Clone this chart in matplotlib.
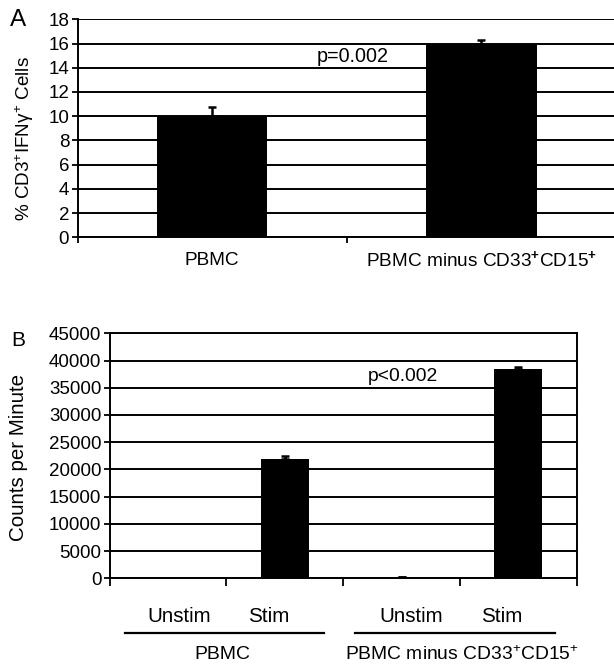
import matplotlib
matplotlib.use("Agg")
import matplotlib.pyplot as plt
import matplotlib.transforms as mtransforms
from matplotlib.lines import Line2D

plt.rcParams['font.family'] = ['Liberation Sans', 'DejaVu Sans']
plt.rcParams['mathtext.fontset'] = 'custom'
plt.rcParams['mathtext.rm'] = 'Liberation Sans'
plt.rcParams['mathtext.it'] = 'Liberation Sans:italic'
plt.rcParams['mathtext.bf'] = 'Liberation Sans:bold'

# Panel A data
a_categories = ["PBMC", "PBMC minus CD33$^{\\mathbf{+}}$CD15$^{\\mathbf{+}}$"]
a_values = [10.0, 16.0]
a_errors = [0.75, 0.25]
a_yticks = [0, 2, 4, 6, 8, 10, 12, 14, 16, 18]

# Panel B data
b_conditions = ["Unstim", "Stim", "Unstim", "Stim"]
b_groups = ["PBMC", "PBMC minus CD33$^{+}$CD15$^{+}$"]
b_values = [0, 22000, 300, 38400]
b_errors = [0, 400, 0, 500]
b_yticks = [0, 5000, 10000, 15000, 20000, 25000, 30000, 35000, 40000, 45000]

W, H = 614, 669
fig = plt.figure(figsize=(W / 100, H / 100), dpi=100)
renderer = fig.canvas.get_renderer()

def px_axes(left, top, right, bottom):
    return fig.add_axes([left / W, 1 - bottom / H, (right - left) / W, (bottom - top) / H])

def fit_text(t, target_px, vertical=False):
    # scale the font so the rendered extent matches the reference size
    for _ in range(3):
        bb = t.get_window_extent(renderer=renderer)
        cur = bb.height if vertical else bb.width
        if cur > 0:
            t.set_fontsize(t.get_fontsize() * target_px / cur)

fs = 14

# ---------- Panel A ----------
axA = px_axes(77.5, 19.3, 616, 237.3)
xa = list(range(len(a_values)))
axA.bar(xa, a_values, width=0.41, color='black', zorder=3)
axA.errorbar(xa, a_values, yerr=[[0] * len(a_errors), a_errors], fmt='none',
             ecolor='black', elinewidth=1.8, capsize=3, capthick=1.8, zorder=4)
axA.set_xlim(-0.5, 1.5)
axA.set_ylim(0, 18)
axA.set_yticks(a_yticks)
axA.yaxis.grid(True, color='black', linewidth=1.4, zorder=0)
axA.set_axisbelow(True)
axA.set_xticks([-0.5, 0.5, 1.5])
axA.set_xticklabels([])
axA.tick_params(axis='x', direction='out', length=4, width=1.3)
axA.tick_params(axis='y', direction='out', length=4, width=1.3, labelsize=13.5, pad=2)
for s in ['top', 'right']:
    axA.spines[s].set_visible(False)
for s in ['left', 'bottom']:
    axA.spines[s].set_linewidth(1.4)
transA = mtransforms.blended_transform_factory(axA.transData, axA.transAxes)
a_label_targets = [55, 232]
for x, lab, tw in zip(xa, a_categories, a_label_targets):
    t = axA.text(x, -0.105, lab, transform=transA, ha='center', va='center', fontsize=fs, clip_on=False)
    fit_text(t, tw)
tp = axA.text(0.387, 14.9, "p=0.002", ha='left', va='center', fontsize=fs)
fit_text(tp, 72)
ylA = fig.text(25 / W, 1 - 139 / H, "% CD3$^{+}$IFN\u03b3$^{+}$ Cells", rotation=90,
               ha='center', va='center', fontsize=14)
fit_text(ylA, 165, vertical=True)
fig.text(18.3 / W, 1 - 20 / H, "A", ha='center', va='center', fontsize=17.5)

# ---------- Panel B ----------
axB = px_axes(109.6, 333.3, 576.7, 578.3)
xb = list(range(len(b_values)))
axB.bar(xb, b_values, width=0.41, color='black', zorder=3)
axB.errorbar(xb, b_values, yerr=[[0] * len(b_errors), b_errors], fmt='none',
             ecolor='black', elinewidth=1.8, capsize=3, capthick=1.8, zorder=4)
axB.set_xlim(-0.5, 3.5)
axB.set_ylim(0, 45000)
axB.set_yticks(b_yticks)
axB.yaxis.grid(True, color='black', linewidth=1.4, zorder=0)
axB.set_axisbelow(True)
axB.set_xticks([-0.5, 0.5, 1.5, 2.5, 3.5])
axB.set_xticklabels([])
axB.tick_params(axis='x', direction='out', length=6, width=1.3)
axB.tick_params(axis='y', direction='out', length=4, width=1.3, labelsize=13.5, pad=2)
for s in ['top', 'right', 'left', 'bottom']:
    axB.spines[s].set_linewidth(1.4)
tp2 = axB.text(1.712, 37060, "p<0.002", ha='left', va='center', fontsize=fs)
fit_text(tp2, 70)
transB = mtransforms.blended_transform_factory(axB.transData, axB.transAxes)
cond_x = [0.094, 0.865, 2.08, 2.855]
cond_w = [64, 41, 64, 41]
for x, lab, tw in zip(cond_x, b_conditions, cond_w):
    t = axB.text(x, -0.157, lab, transform=transB, ha='center', va='center', fontsize=fs, clip_on=False)
    fit_text(t, tw)
group_spans = [(-0.372, 1.335), (1.60, 3.313)]
group_x = [0.462, 2.514]
group_w = [56, 234]
for (x0, x1), gx, lab, tw in zip(group_spans, group_x, b_groups, group_w):
    axB.add_line(Line2D([x0, x1], [-0.2245, -0.2245], transform=transB, color='black',
                        linewidth=1.6, clip_on=False))
    t = axB.text(gx, -0.313, lab, transform=transB, ha='center', va='center', fontsize=13.5, clip_on=False)
    fit_text(t, tw)
ylB = fig.text(19 / W, 1 - 457.5 / H, "Counts per Minute", rotation=90,
               ha='center', va='center', fontsize=14.5)
fit_text(ylB, 167, vertical=True)
fig.text(18.3 / W, 1 - 340 / H, "B", ha='center', va='center', fontsize=15)

fig.savefig("out.png", dpi=100)
